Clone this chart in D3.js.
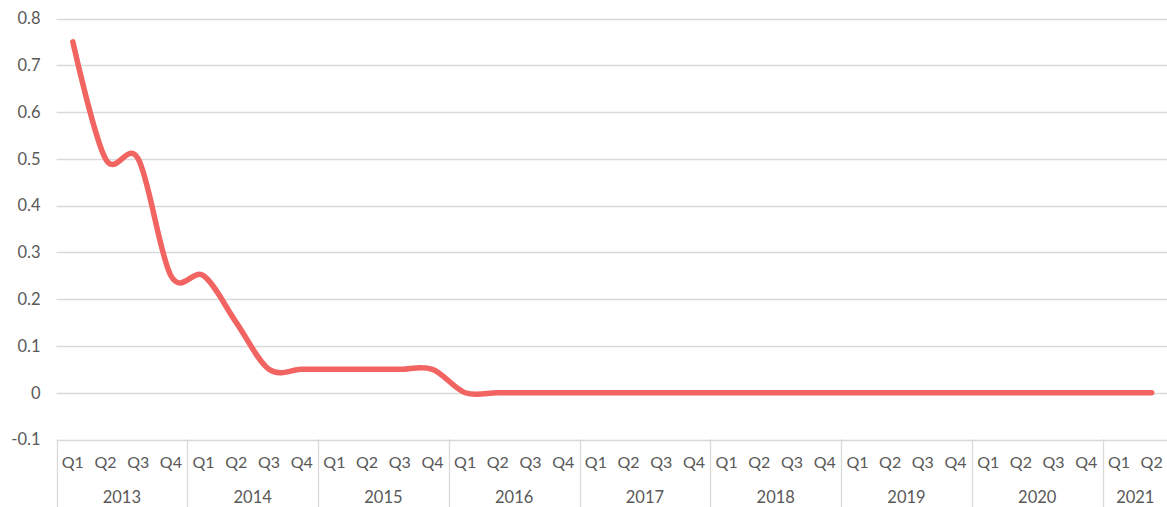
<!DOCTYPE html>
<html>
<head>
<meta charset="utf-8">
<script src="https://cdn.jsdelivr.net/npm/d3@7"></script>
<style>
  html, body { margin: 0; padding: 0; background: #fff; }
  svg { display: block; }
  text { font-family: "Lato", "Open Sans", sans-serif; fill: #595959; }
</style>
</head>
<body>
<svg id="chart" width="1167" height="507"></svg>
<script>
// Quarterly series, 2013 Q1 – 2021 Q2
const years = ["2013", "2014", "2015", "2016", "2017", "2018", "2019", "2020", "2021"];
const quartersPerYear = [4, 4, 4, 4, 4, 4, 4, 4, 2];
const quarterNames = ["Q1", "Q2", "Q3", "Q4"];
const values = [
  0.75, 0.5, 0.5, 0.25,
  0.25, 0.15, 0.05, 0.05,
  0.05, 0.05, 0.05, 0.05,
  0, 0, 0, 0,
  0, 0, 0, 0,
  0, 0, 0, 0,
  0, 0, 0, 0,
  0, 0, 0, 0,
  0, 0
];
const yTicks = [-0.1, 0, 0.1, 0.2, 0.3, 0.4, 0.5, 0.6, 0.7, 0.8];

// Flatten to one row per quarter
const rows = [];
years.forEach((yr, i) => {
  for (let q = 0; q < quartersPerYear[i]; q++) {
    rows.push({ key: yr + "-" + quarterNames[q], year: yr, q: quarterNames[q], value: values[rows.length] });
  }
});

const svg = d3.select("#chart");
const plotLeft = 56.5, plotRight = 1168, plotTop = 18.5, plotBottom = 439.5;

const x = d3.scaleBand().domain(rows.map(d => d.key)).range([plotLeft, plotRight]).padding(0);
const y = d3.scaleLinear().domain([-0.1, 0.8]).range([plotBottom, plotTop]);

// Horizontal gridlines
svg.append("g")
  .selectAll("line")
  .data(yTicks)
  .join("line")
  .attr("x1", plotLeft).attr("x2", plotRight)
  .attr("y1", d => Math.round(y(d)) + 0.5).attr("y2", d => Math.round(y(d)) + 0.5)
  .attr("stroke", "#d9d9d9").attr("stroke-width", 1.3);

// Y axis labels
const yAxis = d3.axisLeft(y).tickValues(yTicks).tickSize(0).tickPadding(0)
  .tickFormat(d => String(+d.toFixed(1)));
svg.append("g")
  .attr("transform", `translate(${plotLeft - 16},0)`)
  .call(yAxis)
  .call(g => g.select(".domain").remove())
  .call(g => g.selectAll("text")
    .attr("font-size", 16.5)
    .attr("font-family", "Lato, 'Open Sans', sans-serif")
    .attr("fill", "#595959"));

// Two-level category axis: quarter labels and year groups
svg.append("g")
  .selectAll("text")
  .data(rows)
  .join("text")
  .attr("x", d => x(d.key) + x.bandwidth() / 2)
  .attr("y", 468)
  .attr("text-anchor", "middle")
  .attr("font-size", 16)
  .text(d => d.q);

let start = 0;
const groups = years.map((yr, i) => {
  const g = { year: yr, first: rows[start].key, last: rows[start + quartersPerYear[i] - 1].key };
  start += quartersPerYear[i];
  return g;
});

svg.append("g")
  .selectAll("text")
  .data(groups)
  .join("text")
  .attr("x", d => (x(d.first) + x(d.last) + x.bandwidth()) / 2)
  .attr("y", 503)
  .attr("text-anchor", "middle")
  .attr("font-size", 16.5)
  .text(d => d.year);

// Year separators
svg.append("g")
  .selectAll("line")
  .data(groups)
  .join("line")
  .attr("x1", d => Math.round(x(d.first)) + 0.5).attr("x2", d => Math.round(x(d.first)) + 0.5)
  .attr("y1", plotBottom).attr("y2", 507)
  .attr("stroke", "#d9d9d9").attr("stroke-width", 1.3);

// Smoothed series line
const line = d3.line()
  .x(d => x(d.key) + x.bandwidth() / 2)
  .y(d => y(d.value))
  .curve(d3.curveCardinal.tension(0));

svg.append("path")
  .datum(rows)
  .attr("d", line)
  .attr("fill", "none")
  .attr("stroke", "#f26461")
  .attr("stroke-width", 5.5)
  .attr("stroke-linecap", "round")
  .attr("stroke-linejoin", "round");
</script>
</body>
</html>
